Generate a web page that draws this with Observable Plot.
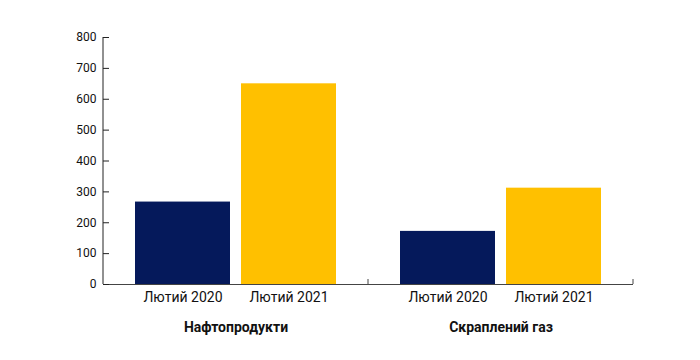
<!DOCTYPE html>
<html>
<head>
<meta charset="utf-8">
<script src="https://cdn.jsdelivr.net/npm/d3@7"></script>
<script src="https://cdn.jsdelivr.net/npm/@observablehq/plot@0.6"></script>
<style>
  body { margin: 0; background: #fff; font-family: Roboto, "Noto Sans", sans-serif; }
</style>
</head>
<body>
<div id="chart"></div>
<script>
const groups = ["Нафтопродукти", "Скраплений газ"];
const periods = ["Лютий 2020", "Лютий 2021"];
const values2020 = [267, 172];
const values2021 = [650, 312];
const yTicks = [0, 100, 200, 300, 400, 500, 600, 700, 800];
const colors = ["#05195B", "#FFC000"];

const data = [];
groups.forEach((g, i) => {
  data.push({group: g, period: periods[0], value: values2020[i]});
  data.push({group: g, period: periods[1], value: values2021[i]});
});

const chart = Plot.plot({
  width: 700,
  height: 360,
  marginLeft: 102,
  marginRight: 67,
  marginTop: 37,
  marginBottom: 76,
  style: {fontFamily: "Roboto, sans-serif", color: "#111", background: "#fff"},
  fx: {domain: groups, padding: 0, axis: null, label: null},
  x: {domain: periods, paddingInner: 0.104, paddingOuter: 0.302, axis: null, label: null},
  y: {domain: [0, 800], axis: null, label: null},
  color: {domain: periods, range: colors},
  marks: [
    Plot.barY(data, {fx: "group", x: "period", y: "value", fill: "period"}),
    Plot.ruleY([0], {stroke: "#444", strokeWidth: 1}),
    Plot.axisX({anchor: "bottom", tickSize: 0, tickPadding: 8, fontSize: 14, fill: "#111", label: null}),
    Plot.text(groups, {fx: d => d, frameAnchor: "bottom", dy: 43, text: d => d, fontSize: 14, fontWeight: "bold", fill: "#111", lineAnchor: "middle"}),
    Plot.axisY({ticks: yTicks, anchor: "left", tickSize: 0, tickPadding: 7, fontSize: 12, fill: "#111", facetAnchor: "left", label: null}),
    Plot.axisY({ticks: yTicks, anchor: "left", tickSize: -6, text: null, stroke: "#222", facetAnchor: "left", label: null})
  ]
});

document.getElementById("chart").appendChild(chart);

// axis line and group boundary ticks, positioned via Plot's own scales
const fx = chart.scale("fx");
const y = chart.scale("y");
const svg = d3.select(chart.tagName.toLowerCase() === "svg" ? chart : chart.querySelector("svg"));
const y0 = y.apply(0);
const yTop = y.apply(800);
const left = fx.apply(groups[0]);
svg.append("line")
  .attr("x1", left).attr("x2", left)
  .attr("y1", yTop).attr("y2", y0)
  .attr("stroke", "#222").attr("stroke-width", 1);
const bounds = groups.map(g => fx.apply(g)).concat([fx.apply(groups[groups.length - 1]) + fx.bandwidth]);
svg.selectAll(null).data(bounds.slice(1)).join("line")
  .attr("x1", d => d).attr("x2", d => d)
  .attr("y1", y0 - 5).attr("y2", y0)
  .attr("stroke", "#444").attr("stroke-width", 1);
</script>
</body>
</html>
